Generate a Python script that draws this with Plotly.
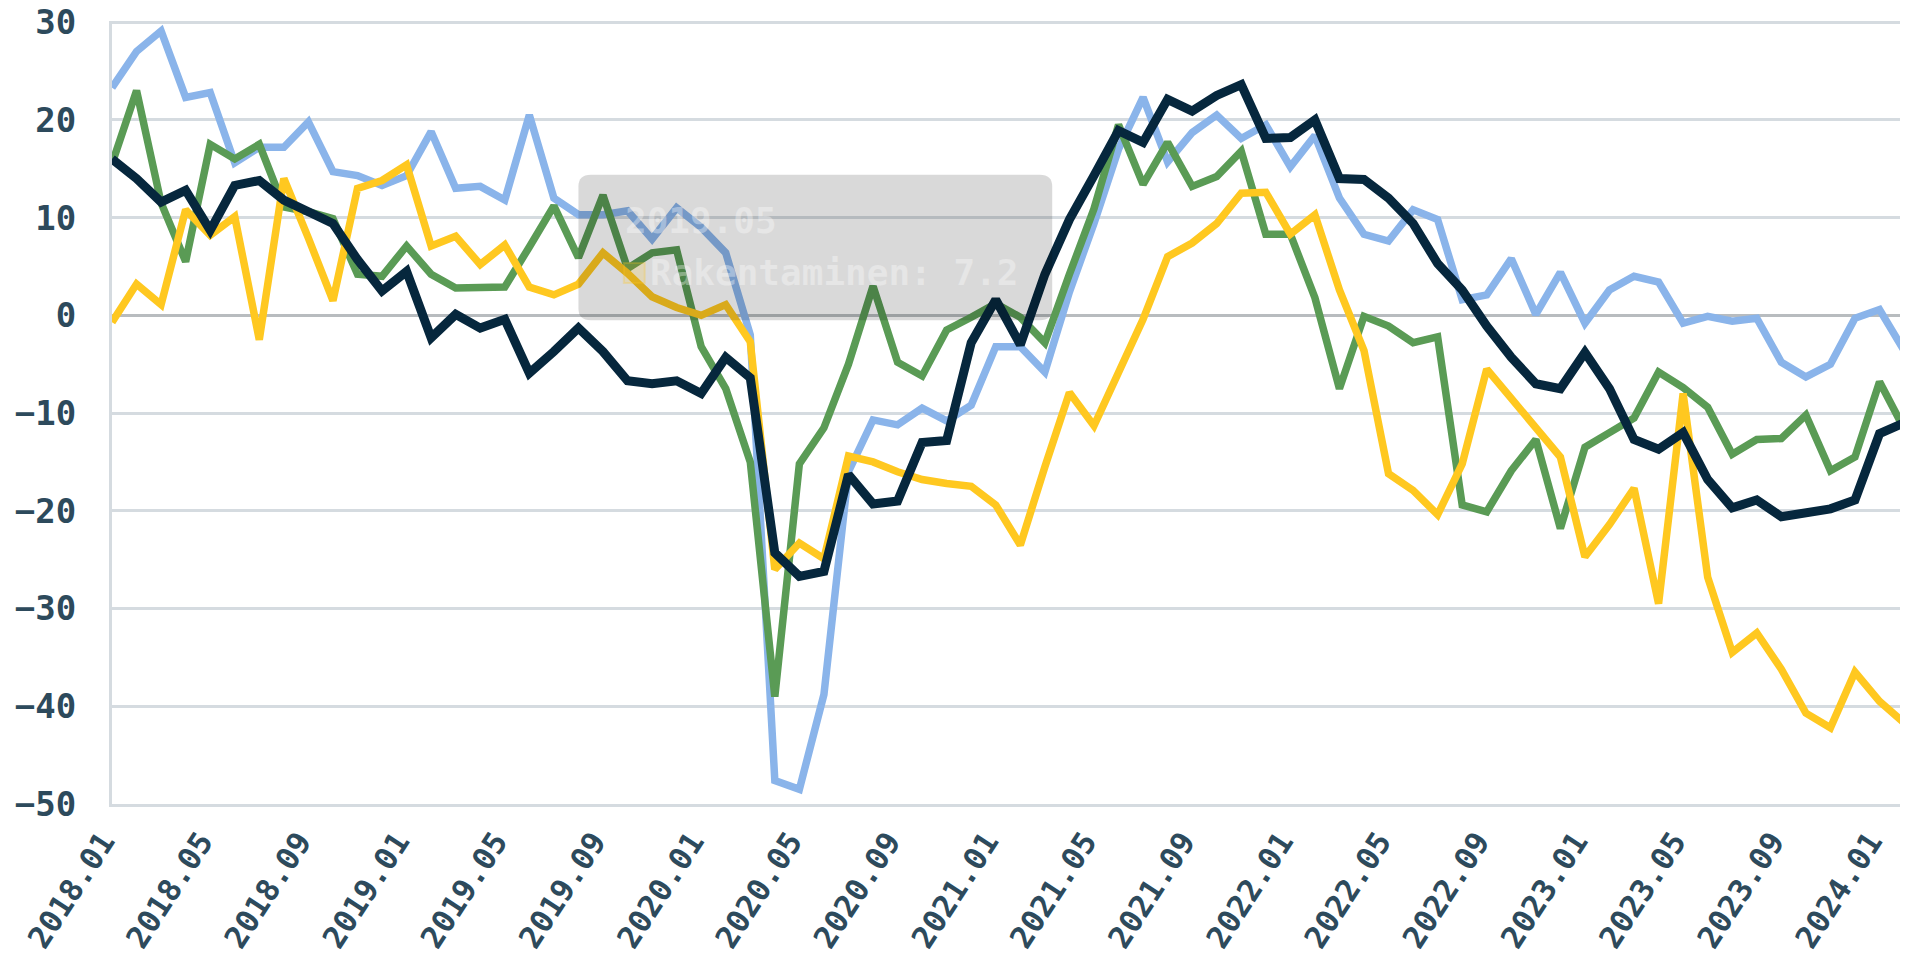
import plotly.graph_objects as go

# kuukaudet 2018.01 - 2024.02
kuukaudet = [f"{v}.{k:02d}" for v in range(2018, 2025) for k in range(1, 13)][:74]

palvelut = [23.3, 27.0, 29.1, 22.3, 22.8, 15.6, 17.2, 17.2, 19.8, 14.7, 14.3, 13.3,
            14.3, 18.8, 13.0, 13.2, 11.8, 20.5, 12.0, 10.3, 10.3, 10.7, 7.8, 11.0,
            9.0, 6.4, -2.0, -47.6, -48.5, -38.8, -16.0, -10.7, -11.2, -9.5, -10.8, -9.2,
            -3.2, -3.2, -5.8, 2.4, 9.4, 17.0, 22.3, 15.7, 18.7, 20.5, 18.1, 19.5,
            15.2, 18.4, 12.0, 8.3, 7.6, 10.8, 9.8, 1.6, 2.1, 5.8, 0.1, 4.4,
            -0.8, 2.6, 4.0, 3.4, -0.8, -0.1, -0.6, -0.3, -4.8, -6.3, -5.0, -0.3,
            0.6, -3.6]

kauppa = [15.5, 23.0, 11.5, 5.5, 17.5, 16.0, 17.5, 11.1, 10.6, 9.9, 4.2, 4.0,
          7.1, 4.2, 2.8, 2.9, 2.9, 7.0, 11.2, 5.9, 12.3, 4.8, 6.4, 6.7,
          -3.2, -7.5, -15.0, -39.0, -15.2, -11.5, -5.0, 3.0, -4.8, -6.2, -1.5, -0.2,
          1.2, -0.2, -2.8, 4.2, 10.9, 19.5, 13.4, 17.7, 13.2, 14.2, 16.8, 8.3,
          8.3, 1.8, -7.5, -0.1, -1.1, -2.8, -2.2, -19.4, -20.1, -15.9, -12.7, -21.8,
          -13.5, -12.0, -10.5, -5.8, -7.4, -9.4, -14.2, -12.7, -12.6, -10.2, -15.9, -14.5,
          -6.8, -11.6]

rakentaminen = [-0.7, 3.2, 1.1, 10.8, 8.2, 10.1, -2.5, 14.0, 7.9, 1.5, 13.0, 13.8,
                15.4, 7.1, 8.1, 5.2, 7.2, 2.9, 2.1, 3.2, 6.4, 4.3, 1.9, 0.8,
                0.0, 1.1, -2.7, -26.0, -23.3, -24.9, -14.4, -15.0, -16.0, -16.8, -17.2, -17.5,
                -19.4, -23.5, -15.5, -7.9, -11.3, -6.0, -0.4, 6.0, 7.4, 9.4, 12.5, 12.6,
                8.3, 10.3, 2.6, -3.6, -16.2, -17.9, -20.4, -15.2, -5.5, -8.5, -11.5, -14.5,
                -24.7, -21.4, -17.7, -29.5, -8.0, -26.8, -34.5, -32.5, -36.2, -40.7, -42.2, -36.5,
                -39.5, -41.7]

teollisuus = [16.0, 14.0, 11.6, 12.8, 8.7, 13.3, 13.8, 11.8, 10.6, 9.4, 5.7, 2.5,
              4.5, -2.3, 0.1, -1.3, -0.4, -5.9, -3.7, -1.3, -3.7, -6.7, -7.0, -6.7,
              -8.0, -4.3, -6.4, -24.3, -26.7, -26.2, -16.3, -19.3, -19.0, -13.0, -12.8, -2.8,
              1.6, -3.0, 4.2, 9.8, 14.3, 18.9, 17.7, 22.1, 20.9, 22.5, 23.6, 18.1,
              18.2, 20.0, 14.0, 13.9, 12.0, 9.4, 5.3, 2.6, -1.1, -4.3, -7.0, -7.5,
              -3.8, -7.5, -12.7, -13.7, -12.0, -16.8, -19.7, -18.9, -20.6, -20.1, -19.8, -18.9,
              -12.1, -11.0]

tick_kuukaudet = kuukaudet[::4]

fontti = "DejaVu Sans Mono"
teksti_vari = "#2d4a5c"

fig = go.Figure()
fig.add_trace(go.Scatter(x=kuukaudet, y=palvelut, name="Palvelut", mode="lines",
                         line=dict(color="#8ab4ea", width=7.5)))
fig.add_trace(go.Scatter(x=kuukaudet, y=kauppa, name="Vähittäiskauppa", mode="lines",
                         line=dict(color="#5a9b55", width=7.5)))
fig.add_trace(go.Scatter(x=kuukaudet, y=rakentaminen, name="Rakentaminen", mode="lines",
                         line=dict(color="#ffc820", width=7.5)))
fig.add_trace(go.Scatter(x=kuukaudet, y=teollisuus, name="Teollisuus", mode="lines",
                         line=dict(color="#06273d", width=9)))

# jäänyt vinkkilaatikko
x0, x1, y0, y1 = 19.0, 38.3, 14.4, -0.5
rx, ry = 0.5, 1.2
polku = (f"M {x0+rx},{y0} L {x1-rx},{y0} Q {x1},{y0} {x1},{y0-ry} "
         f"L {x1},{y1+ry} Q {x1},{y1} {x1-rx},{y1} L {x0+rx},{y1} "
         f"Q {x0},{y1} {x0},{y1+ry} L {x0},{y0-ry} Q {x0},{y0} {x0+rx},{y0} Z")
fig.add_shape(type="path", path=polku, xref="x", yref="y", layer="above",
              fillcolor="rgba(0,0,0,0.15)", line=dict(width=0))
fig.add_shape(type="rect", xref="x", yref="y", x0=20.85, x1=21.7, y0=5.35, y1=3.3,
              layer="above", fillcolor="rgba(255,200,32,0.18)",
              line=dict(color="rgba(255,200,32,0.25)", width=2))
fig.add_annotation(x=20.8, y=9.7, xref="x", yref="y", text="<b>2019.05</b>",
                   showarrow=False, xanchor="left",
                   font=dict(family=fontti, size=36, color="rgba(255,255,255,0.35)"))
fig.add_annotation(x=21.85, y=4.4, xref="x", yref="y", text="<b>Rakentaminen: 7.2</b>",
                   showarrow=False, xanchor="left",
                   font=dict(family=fontti, size=36, color="rgba(255,255,255,0.35)"))

fig.update_layout(
    width=1908, height=956,
    margin=dict(l=104, r=8, t=13, b=160),
    paper_bgcolor="white", plot_bgcolor="white",
    showlegend=False,
    font=dict(family=fontti, color=teksti_vari),
)
fig.update_xaxes(
    type="category", range=[0, 73.16], automargin=False,
    tickmode="array", tickvals=tick_kuukaudet, ticktext=tick_kuukaudet,
    tickangle=-57, ticklabelstandoff=4, ticklabelshift=-9,
    tickfont=dict(family=fontti, size=31, color=teksti_vari, weight="bold"),
    showgrid=False, showline=True, linecolor="#d5dbe0", linewidth=3,
    ticks="", ticklabeloverflow="allow",
)
fig.update_yaxes(
    range=[-50, 30.12], tickvals=[-50, -40, -30, -20, -10, 0, 10, 20, 30],
    automargin=False, ticklabelstandoff=26, ticklabeloverflow="allow",
    tickfont=dict(family=fontti, size=34, color=teksti_vari, weight="bold"),
    showgrid=True, gridcolor="#d5dbe0", gridwidth=2.5,
    zeroline=True, zerolinecolor="#b8bcbf", zerolinewidth=2.5,
    showline=True, linecolor="#d5dbe0", linewidth=3,
)

fig.write_html("out.html")
